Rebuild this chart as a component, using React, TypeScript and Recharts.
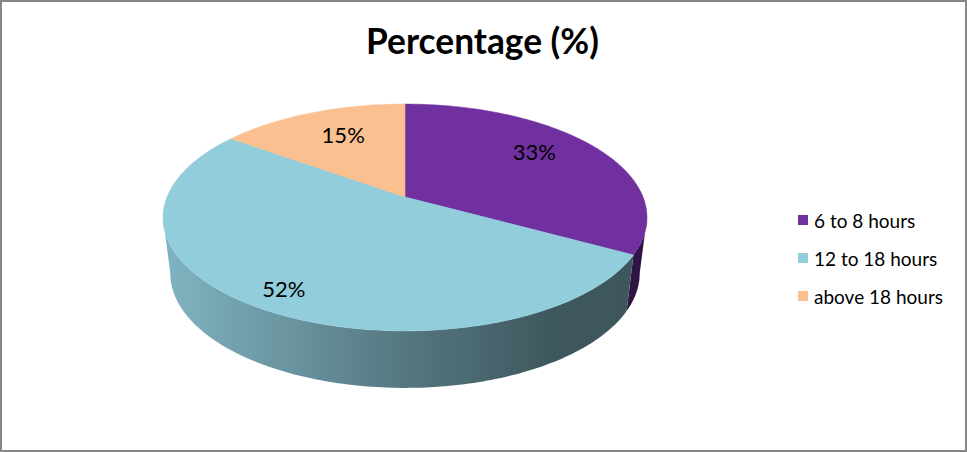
import { Legend, Pie, PieChart } from 'recharts'

const categories = ['6 to 8 hours', '12 to 18 hours', 'above 18 hours']
const percentages = [33, 52, 15]
const colors = ['#7030A0', '#92CDDC', '#FAC090']

const pieData = categories.map((name, i) => ({ name, value: percentages[i], fill: colors[i] }))

// tilt of the 3D disc: squash of the circle and the perspective pull towards the viewer
const SQUASH = 0.461
const PERSPECTIVE = 0.1806
const DEPTH = 57
const RIM_SCALE = 0.97
const DEG = Math.PI / 180

// label spots as radius fraction plus a small nudge, per slice
const labelSpots = [
  { r: 0.67, dy: -10 },
  { r: 0.83, dy: 3 },
  { r: 0.63, dy: -7 },
]

const project = (cx: number, cy: number, radius: number, clockDeg: number, r = 1) => {
  const u = Math.sin(clockDeg * DEG) * r
  const v = -Math.cos(clockDeg * DEG) * r
  const w = 1 - PERSPECTIVE * v
  return { x: cx + (radius * u) / w, y: cy + (radius * SQUASH * v) / w }
}

const projectRim = (cx: number, cy: number, radius: number, clockDeg: number) => {
  const top = project(cx, cy, radius, clockDeg)
  const v = -Math.cos(clockDeg * DEG)
  return {
    x: cx + (top.x - cx) * RIM_SCALE,
    y: top.y + DEPTH - 1.5 * (1 - v),
  }
}

const shade = (hex: string, f: number) => {
  const n = parseInt(hex.slice(1), 16)
  const c = [(n >> 16) & 255, (n >> 8) & 255, n & 255].map((x) => Math.round(x * f))
  return `rgb(${c[0]},${c[1]},${c[2]})`
}

const sweep = (from: number, to: number) => {
  const out: number[] = []
  for (let a = from; a < to; a += 1) out.push(a)
  out.push(to)
  return out
}

const toPath = (pts: { x: number; y: number }[]) =>
  pts.map((p, i) => `${i === 0 ? 'M' : 'L'}${p.x.toFixed(2)},${p.y.toFixed(2)}`).join(' ') + ' Z'

const DiscSlice = (props: any) => {
  const { cx, cy, outerRadius, startAngle, endAngle, fill, index } = props
  const from = 90 - startAngle
  const to = 90 - endAngle
  const top = sweep(from, to).map((a) => project(cx, cy, outerRadius, a))
  const face = toPath([{ x: cx, y: cy }, ...top])

  // only the front of the disc shows a wall
  const tangent = Math.acos(-PERSPECTIVE) / DEG
  const wallFrom = Math.max(from, tangent)
  const wallTo = Math.min(to, 360 - tangent)
  let wall = null
  if (wallFrom < wallTo) {
    const upper = sweep(wallFrom, wallTo).map((a) => project(cx, cy, outerRadius, a))
    const lower = sweep(wallFrom, wallTo)
      .reverse()
      .map((a) => projectRim(cx, cy, outerRadius, a))
    wall = (
      <>
        <defs>
          <linearGradient id={`wall-${index}`} gradientUnits="userSpaceOnUse" x1={163} x2={648} y1={0} y2={0}>
            <stop offset="0%" stopColor={shade(fill, 0.88)} />
            <stop offset="50%" stopColor={shade(fill, 0.58)} />
            <stop offset="80%" stopColor={shade(fill, 0.43)} />
            <stop offset="100%" stopColor={shade(fill, 0.42)} />
          </linearGradient>
        </defs>
        <path d={toPath([...upper, ...lower])} fill={`url(#wall-${index})`} />
      </>
    )
  }
  return (
    <g>
      {wall}
      <path d={face} fill={fill} stroke={fill} strokeWidth={0.5} />
    </g>
  )
}

const SliceLabel = (props: any) => {
  const { cx, cy, outerRadius, midAngle, value, index } = props
  const spot = labelSpots[index]
  const p = project(cx, cy, outerRadius, 90 - midAngle, spot.r)
  return (
    <text x={p.x} y={p.y + spot.dy} textAnchor="middle" dominantBaseline="central" fontSize={22} fill="#000">
      {`${value}%`}
    </text>
  )
}

const LegendList = ({ payload }: any) => (
  <div>
    {(payload ?? []).map((entry: any) => (
      <div key={entry.value} style={{ display: 'flex', alignItems: 'center', height: 38 }}>
        <span style={{ width: 10, height: 10, background: entry.color, marginRight: 6, flex: 'none' }} />
        <span style={{ fontSize: 19, color: '#000', whiteSpace: 'nowrap' }}>{entry.value}</span>
      </div>
    ))}
  </div>
)

export default function App() {
  return (
    <div
      style={{
        position: 'absolute',
        left: 0,
        top: 0,
        width: 967,
        height: 452,
        background: '#fff',
        fontFamily: 'Lato, sans-serif',
        outline: '2px solid #868686',
        outlineOffset: -2,
      }}
    >
      <PieChart width={967} height={452} margin={{ top: 0, right: 0, bottom: 0, left: 0 }}>
        <text x={482.5} y={40} textAnchor="middle" dominantBaseline="central" fontSize={35.3} fontWeight={700} fill="#000">
          Percentage (%)
        </text>
        <Pie
          data={pieData}
          dataKey="value"
          nameKey="name"
          cx={405}
          cy={197}
          innerRadius={0}
          outerRadius={238}
          startAngle={90}
          endAngle={-270}
          stroke="none"
          shape={DiscSlice}
          label={SliceLabel}
          labelLine={false}
          isAnimationActive={false}
        />
        <Legend
          layout="vertical"
          align="right"
          verticalAlign="top"
          itemSorter={null}
          content={LegendList}
          wrapperStyle={{ left: 798, top: 201, width: 165, right: 'auto' }}
        />
      </PieChart>
    </div>
  )
}
